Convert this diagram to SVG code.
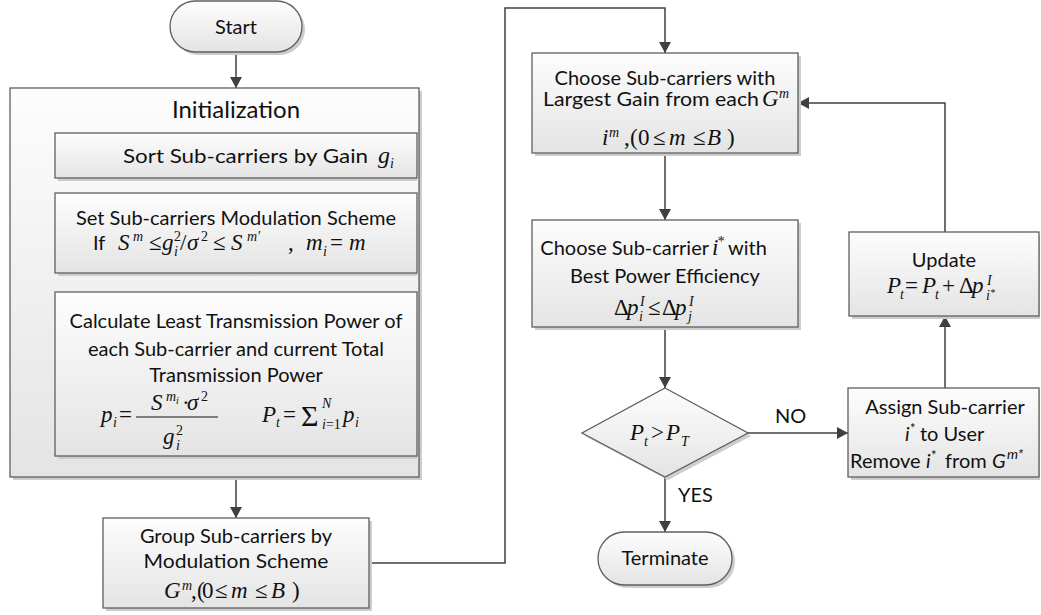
<svg xmlns="http://www.w3.org/2000/svg" width="1041" height="615" viewBox="0 0 1041 615">
<defs>
<linearGradient id="g" x1="0" y1="0" x2="0" y2="1">
<stop offset="0" stop-color="#fdfdfd"/>
<stop offset="1" stop-color="#e4e4e4"/>
</linearGradient>
<marker id="a" markerUnits="userSpaceOnUse" markerWidth="12" markerHeight="12" refX="11" refY="6" orient="auto">
<path d="M0,0 L11,6 L0,12 z" fill="#404040"/>
</marker>
<style>
.box{fill:url(#g);stroke:#5f5f5f;stroke-width:1.3}
.sh{fill:#cdcdcd}
.t{font-family:Lato,"Liberation Sans",sans-serif;font-size:20px;fill:#111}
.c{text-anchor:middle}
.e{text-anchor:end}
.m{font-family:"Liberation Serif",serif;font-style:italic;font-size:23px;fill:#111}
.u{font-style:normal}
.s{font-size:14px}
.ss{font-size:10px}
.it{font-style:italic}
.ln{stroke:#404040;stroke-width:1.5;fill:none}
</style>
</defs>
<rect width="1041" height="615" fill="#ffffff"/>

<g id="connectors">
<path class="ln" d="M236,52 V88" marker-end="url(#a)"/>
<path class="ln" d="M236,477 V518" marker-end="url(#a)"/>
<path class="ln" d="M369,563 H505 V8 H665 V53" marker-end="url(#a)"/>
<path class="ln" d="M665,153 V220" marker-end="url(#a)"/>
<path class="ln" d="M665,327 V388" marker-end="url(#a)"/>
<path class="ln" d="M748,433 H848" marker-end="url(#a)"/>
<path class="ln" d="M665,477 V532" marker-end="url(#a)"/>
<path class="ln" d="M945,388 V316" marker-end="url(#a)"/>
<path class="ln" d="M945,232 V103 H798" marker-end="url(#a)"/>
<text class="t" x="775" y="423">NO</text>
<text class="t" x="678" y="502">YES</text>
</g>

<g id="start">
<rect class="sh" x="173" y="4" width="132" height="51" rx="25.5"/>
<rect class="box" x="170" y="1" width="132" height="51" rx="25.5"/>
<text class="t c" x="236" y="34">Start</text>
</g>

<g id="init">
<rect class="sh" x="13" y="91" width="409" height="389"/>
<rect class="box" x="10" y="88" width="409" height="389"/>
<text class="t c" x="236" y="118" style="font-size:24px">Initialization</text>
</g>

<g id="sort">
<rect class="sh" x="58" y="136" width="359" height="45"/>
<rect class="box" x="55" y="133" width="362" height="45"/>
<text class="t" x="123" y="163" textLength="245" lengthAdjust="spacingAndGlyphs">Sort Sub-carriers by Gain</text>
<text class="m" style="font-size:24px"><tspan x="378" y="163">g</tspan><tspan class="s" x="390" y="168">i</tspan></text>
</g>

<g id="setmod">
<rect class="sh" x="58" y="196" width="359" height="80"/>
<rect class="box" x="55" y="193" width="362" height="80"/>
<text class="t c" x="236" y="225">Set Sub-carriers Modulation Scheme</text>
<text class="t" x="93" y="250">If</text>
<text class="m"><tspan x="118" y="250">S</tspan><tspan class="s" x="133" y="241">m</tspan><tspan class="u" x="149" y="250">≤</tspan><tspan x="162" y="250">g</tspan><tspan class="s u" x="174" y="241">2</tspan><tspan class="s" x="174" y="256">i</tspan><tspan class="u" x="180" y="250">/</tspan><tspan x="187" y="250">σ</tspan><tspan class="s u" x="201" y="241">2</tspan><tspan class="u" x="213" y="250">≤</tspan><tspan x="231" y="250">S</tspan><tspan class="s" x="247" y="241">m′</tspan><tspan class="u" x="288" y="250">,</tspan><tspan x="306" y="250">m</tspan><tspan class="s" x="323" y="256">i</tspan><tspan class="u" x="330" y="250">=</tspan><tspan x="349" y="250">m</tspan></text>
</g>

<g id="calc">
<rect class="sh" x="58" y="295" width="359" height="164"/>
<rect class="box" x="55" y="292" width="362" height="164"/>
<text class="t c" x="236" y="328">Calculate Least Transmission Power of</text>
<text class="t c" x="236" y="356">each Sub-carrier and current Total</text>
<text class="t c" x="236" y="382">Transmission Power</text>
<text class="m"><tspan x="101" y="422">p</tspan><tspan class="s" x="113" y="427">i</tspan><tspan class="u" x="119" y="422">=</tspan><tspan x="151" y="410">S</tspan><tspan class="s" x="166" y="401">m</tspan><tspan class="ss" x="176" y="404">i</tspan><tspan class="u" x="182" y="410">·</tspan><tspan x="187" y="410">σ</tspan><tspan class="s u" x="201" y="401">2</tspan><tspan x="163" y="444">g</tspan><tspan class="s u" x="176" y="435">2</tspan><tspan class="s" x="176" y="450">i</tspan><tspan x="262" y="422">P</tspan><tspan class="s" x="276" y="427">t</tspan><tspan class="u" x="283" y="422">=</tspan><tspan class="u" x="301" y="426" style="font-size:30px">Σ</tspan><tspan class="s" x="322" y="408">N</tspan><tspan class="s" x="322" y="429">i</tspan><tspan class="s u">=1</tspan><tspan x="343" y="422">p</tspan><tspan class="s" x="355" y="427">i</tspan></text>
<line x1="136" y1="417" x2="218" y2="417" stroke="#111" stroke-width="1.2"/>
</g>

<g id="group">
<rect class="sh" x="106" y="521" width="266" height="90"/>
<rect class="box" x="103" y="518" width="266" height="90"/>
<text class="t c" x="236" y="543">Group Sub-carriers by</text>
<text class="t c" x="236" y="568" textLength="185" lengthAdjust="spacingAndGlyphs">Modulation Scheme</text>
<text class="m"><tspan x="164" y="598">G</tspan><tspan class="s" x="182" y="590">m</tspan><tspan class="u" x="191" y="598">,</tspan><tspan class="u" x="197" y="598">(</tspan><tspan class="u" x="202" y="598">0</tspan><tspan class="u" x="215" y="598">≤</tspan><tspan x="231" y="598">m</tspan><tspan class="u" x="255" y="598">≤</tspan><tspan x="271" y="598">B</tspan><tspan class="u" x="292" y="598">)</tspan></text>
</g>

<g id="choose1">
<rect class="sh" x="535" y="56" width="266" height="100"/>
<rect class="box" x="532" y="53" width="266" height="100"/>
<text class="t c" x="665" y="85">Choose Sub-carriers with</text>
<text class="t" x="543" y="106" textLength="216" lengthAdjust="spacingAndGlyphs">Largest Gain from each</text>
<text class="m"><tspan x="762" y="106">G</tspan><tspan class="s" x="779" y="98">m</tspan></text>
<text class="m"><tspan x="602" y="145">i</tspan><tspan class="s" x="609" y="137">m</tspan><tspan class="u" x="624" y="145">,</tspan><tspan class="u" x="630" y="145">(</tspan><tspan class="u" x="638" y="145">0</tspan><tspan class="u" x="653" y="145">≤</tspan><tspan x="669" y="145">m</tspan><tspan class="u" x="693" y="145">≤</tspan><tspan x="707" y="145">B</tspan><tspan class="u" x="727" y="145">)</tspan></text>
</g>

<g id="choose2">
<rect class="sh" x="535" y="223" width="266" height="107"/>
<rect class="box" x="532" y="220" width="266" height="107"/>
<text class="t e" x="709" y="255">Choose Sub-carrier</text>
<text class="m"><tspan x="712" y="255">i</tspan><tspan class="s" x="717" y="246">*</tspan></text>
<text class="t" x="728" y="255">with</text>
<text class="t c" x="665" y="283">Best Power Efficiency</text>
<text class="m"><tspan class="u" x="614" y="315">Δ</tspan><tspan x="627" y="315">p</tspan><tspan class="s" x="640" y="306">I</tspan><tspan class="s" x="639" y="321">i</tspan><tspan class="u" x="648" y="315">≤</tspan><tspan class="u" x="662" y="315">Δ</tspan><tspan x="675" y="315">p</tspan><tspan class="s" x="689" y="306">I</tspan><tspan class="s" x="688" y="321">j</tspan></text>
</g>

<g id="decision">
<polygon points="668,391 751,436 668,480 585,436" class="sh"/>
<polygon points="665,388 748,433 665,477 582,433" class="box"/>
<text class="m"><tspan x="630" y="440">P</tspan><tspan class="s" x="644" y="446">t</tspan><tspan class="u" x="651" y="440">&gt;</tspan><tspan x="666" y="440">P</tspan><tspan class="s" x="681" y="446">T</tspan></text>
</g>

<g id="terminate">
<rect class="sh" x="601" y="535" width="134" height="53" rx="26.5"/>
<rect class="box" x="598" y="532" width="134" height="53" rx="26.5"/>
<text class="t c" x="665" y="565">Terminate</text>
</g>

<g id="assign">
<rect class="sh" x="851" y="391" width="189" height="89"/>
<rect class="box" x="848" y="388" width="191" height="89"/>
<text class="t c" x="945" y="414">Assign Sub-carrier</text>
<text class="t"><tspan class="it" x="905" y="441">i</tspan><tspan x="910" y="433" style="font-size:13px">*</tspan><tspan x="920" y="441">to User</tspan></text>
<text class="t"><tspan x="850" y="468">Remove</tspan><tspan class="it" x="926" y="468">i</tspan><tspan x="931" y="460" style="font-size:13px">*</tspan><tspan x="945" y="468">from</tspan><tspan class="it" x="992" y="468">G</tspan><tspan class="it" x="1007" y="459" style="font-size:14px">m*</tspan></text>
</g>

<g id="update">
<rect class="sh" x="852" y="235" width="188" height="84"/>
<rect class="box" x="849" y="232" width="190" height="84"/>
<text class="t c" x="944" y="267">Update</text>
<text class="m"><tspan x="887" y="293">P</tspan><tspan class="s" x="900" y="299">t</tspan><tspan class="u" x="905" y="293">=</tspan><tspan x="922" y="293">P</tspan><tspan class="s" x="935" y="299">t</tspan><tspan class="u" x="942" y="293">+</tspan><tspan class="u" x="959" y="293">Δ</tspan><tspan x="972" y="293">p</tspan><tspan class="s" x="987" y="285">I</tspan><tspan class="s" x="986" y="300">i</tspan><tspan class="ss" x="990" y="296">*</tspan></text>
</g>
</svg>
